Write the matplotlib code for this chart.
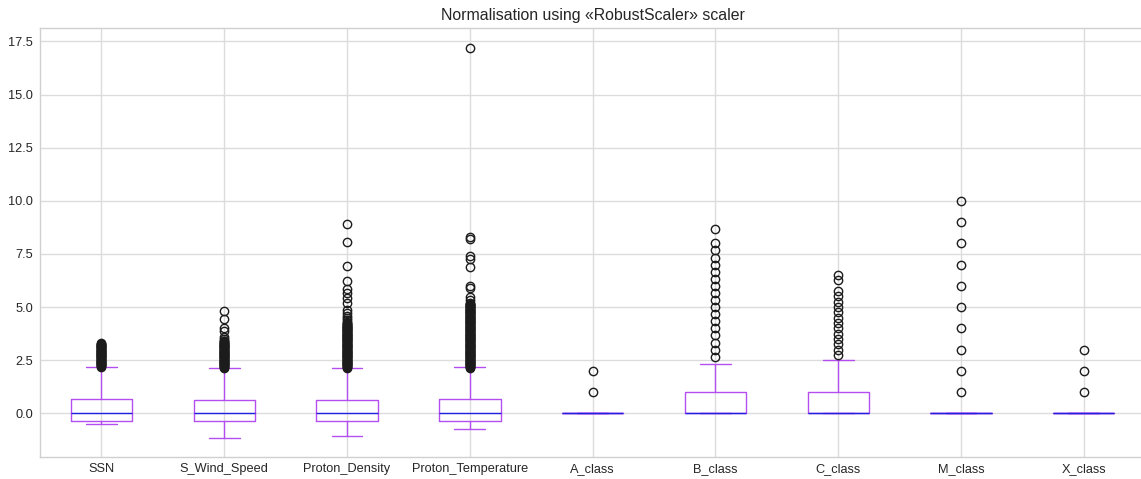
import matplotlib
matplotlib.use("Agg")
import matplotlib.pyplot as plt

plt.style.use("seaborn-v0_8-whitegrid")
plt.rcParams["font.family"] = ["Liberation Sans", "DejaVu Sans"]

# Feature names after RobustScaler normalisation
features = ["SSN", "S_Wind_Speed", "Proton_Density", "Proton_Temperature",
            "A_class", "B_class", "C_class", "M_class", "X_class"]

# Box statistics per feature
medians = [0.0, 0.0, 0.0, 0.0, 0.0, 0.0, 0.0, 0.0, 0.0]
q1 = [-0.36, -0.36, -0.36, -0.36, 0.0, 0.0, 0.0, 0.0, 0.0]
q3 = [0.69, 0.63, 0.63, 0.69, 0.0, 1.0, 1.0, 0.0, 0.0]
whisker_low = [-0.49, -1.18, -1.05, -0.74, 0.0, 0.0, 0.0, 0.0, 0.0]
whisker_high = [2.18, 2.12, 2.12, 2.18, 0.0, 2.33, 2.5, 0.0, 0.0]

# Outliers per feature
ssn_out = [2.2, 2.23, 2.25, 2.28, 2.3, 2.33, 2.35, 2.38, 2.4, 2.43, 2.45,
           2.48, 2.5, 2.53, 2.55, 2.58, 2.6, 2.63, 2.65, 2.68, 2.7, 2.73,
           2.75, 2.78, 2.8, 2.83, 2.85, 2.88, 2.9, 2.93, 2.95, 2.98, 3.0,
           3.03, 3.05, 3.08, 3.1, 3.13, 3.15, 3.18, 3.2, 3.23, 3.25, 3.28,
           3.3]
wind_out = [2.15, 2.18, 2.2, 2.23, 2.25, 2.28, 2.3, 2.33, 2.35, 2.38, 2.4,
            2.43, 2.45, 2.48, 2.5, 2.53, 2.55, 2.58, 2.6, 2.63, 2.65, 2.68,
            2.7, 2.73, 2.75, 2.78, 2.8, 2.83, 2.85, 2.88, 2.9, 2.93, 2.95,
            2.98, 3.0, 3.03, 3.05, 3.08, 3.1, 3.13, 3.15, 3.18, 3.2, 3.23,
            3.25, 3.28, 3.3, 3.33, 3.35, 3.38, 3.4, 3.5, 3.6, 3.85, 4.0,
            4.42, 4.83]
density_out = [2.15, 2.18, 2.2, 2.23, 2.25, 2.28, 2.3, 2.33, 2.35, 2.38,
               2.4, 2.43, 2.45, 2.48, 2.5, 2.53, 2.55, 2.58, 2.6, 2.63, 2.65,
               2.68, 2.7, 2.73, 2.75, 2.78, 2.8, 2.83, 2.85, 2.88, 2.9, 2.93,
               2.95, 2.98, 3.0, 3.03, 3.05, 3.08, 3.1, 3.13, 3.15, 3.18, 3.2,
               3.23, 3.25, 3.28, 3.3, 3.33, 3.35, 3.38, 3.4, 3.43, 3.45, 3.48,
               3.5, 3.53, 3.55, 3.58, 3.6, 3.63, 3.65, 3.68, 3.7, 3.73, 3.75,
               3.78, 3.8, 3.83, 3.85, 3.88, 3.9, 3.93, 3.95, 3.98, 4.0, 4.03,
               4.05, 4.08, 4.1, 4.13, 4.15, 4.18, 4.2, 4.25, 4.3, 4.39, 4.5,
               4.6, 4.7, 4.86, 5.2, 5.44, 5.65, 5.83, 6.24, 6.94, 8.07, 8.89]
temp_out = [2.15, 2.18, 2.2, 2.23, 2.25, 2.28, 2.3, 2.33, 2.35, 2.38, 2.4,
            2.43, 2.45, 2.48, 2.5, 2.53, 2.55, 2.58, 2.6, 2.63, 2.65, 2.68,
            2.7, 2.73, 2.75, 2.78, 2.8, 2.83, 2.85, 2.88, 2.9, 2.93, 2.95,
            2.98, 3.0, 3.03, 3.05, 3.08, 3.1, 3.13, 3.15, 3.18, 3.2, 3.23,
            3.25, 3.28, 3.3, 3.33, 3.35, 3.38, 3.4, 3.43, 3.45, 3.48, 3.5,
            3.53, 3.55, 3.58, 3.6, 3.63, 3.65, 3.68, 3.7, 3.73, 3.75, 3.78,
            3.8, 3.83, 3.85, 3.88, 3.9, 3.93, 3.95, 3.98, 4.0, 4.03, 4.05,
            4.08, 4.1, 4.13, 4.15, 4.18, 4.2, 4.23, 4.25, 4.28, 4.3, 4.33,
            4.35, 4.38, 4.4, 4.43, 4.45, 4.48, 4.5, 4.53, 4.55, 4.58, 4.6,
            4.63, 4.65, 4.68, 4.7, 4.73, 4.75, 4.78, 4.8, 4.83, 4.85, 4.88,
            4.9, 4.93, 4.95, 4.98, 5.0, 5.03, 5.05, 5.08, 5.1, 5.13, 5.15,
            5.2, 5.33, 5.49, 5.88, 5.99, 6.87, 7.24, 7.41, 8.2, 8.31, 17.2]
a_out = [1.0, 2.0]
b_out = [2.67, 3.0, 3.33, 3.67, 4.0, 4.33, 4.67, 5.0, 5.33, 5.67, 6.0, 6.33,
         6.67, 7.0, 7.33, 7.67, 8.0, 8.67]
c_out = [2.75, 3.0, 3.25, 3.5, 3.75, 4.0, 4.25, 4.5, 4.75, 5.0, 5.25, 5.5,
         5.75, 6.25, 6.5]
m_out = [1.0, 2.0, 3.0, 4.0, 5.0, 6.0, 7.0, 8.0, 9.0, 10.0]
x_out = [1.0, 2.0, 3.0]
outliers = [ssn_out, wind_out, density_out, temp_out, a_out, b_out, c_out,
            m_out, x_out]

stats = []
for i, name in enumerate(features):
    stats.append({
        "label": name,
        "med": medians[i],
        "q1": q1[i],
        "q3": q3[i],
        "whislo": whisker_low[i],
        "whishi": whisker_high[i],
        "fliers": outliers[i],
    })

box_color = "#b44ef0"
median_color = "#2020e0"

fig = plt.figure(figsize=(11.41, 4.79), dpi=100)
ax = fig.add_axes([40 / 1141, 21.7 / 479, 1105.2 / 1141, 429.3 / 479])

ax.bxp(stats, positions=range(1, len(features) + 1), widths=0.5,
       boxprops=dict(color=box_color, linewidth=1.0),
       whiskerprops=dict(color=box_color, linewidth=1.0),
       capprops=dict(color=box_color, linewidth=1.0),
       medianprops=dict(color=median_color, linewidth=1.0, zorder=5),
       flierprops=dict(marker="o", markerfacecolor="none",
                       markeredgecolor="#1c1c1c", markersize=6,
                       markeredgewidth=1.0))

ax.set_xlim(0.5, 9.5)
ax.set_ylim(-2.07, 18.13)
ax.set_yticks([0.0, 2.5, 5.0, 7.5, 10.0, 12.5, 15.0, 17.5])
ax.grid(True, color="#dcdcdc", linewidth=1.0)
ax.set_axisbelow(True)
for s in ax.spines.values():
    s.set_color("#d0d0d0")
    s.set_linewidth(1.0)
ax.tick_params(axis="both", labelsize=9.2, labelcolor="#262626", length=0)
ax.tick_params(axis="y", pad=5)
ax.tick_params(axis="x", pad=4)
ax.set_title("Normalisation using «RobustScaler» scaler", fontsize=11.4,
             color="#262626", pad=6)

fig.savefig("out.png", dpi=100)
